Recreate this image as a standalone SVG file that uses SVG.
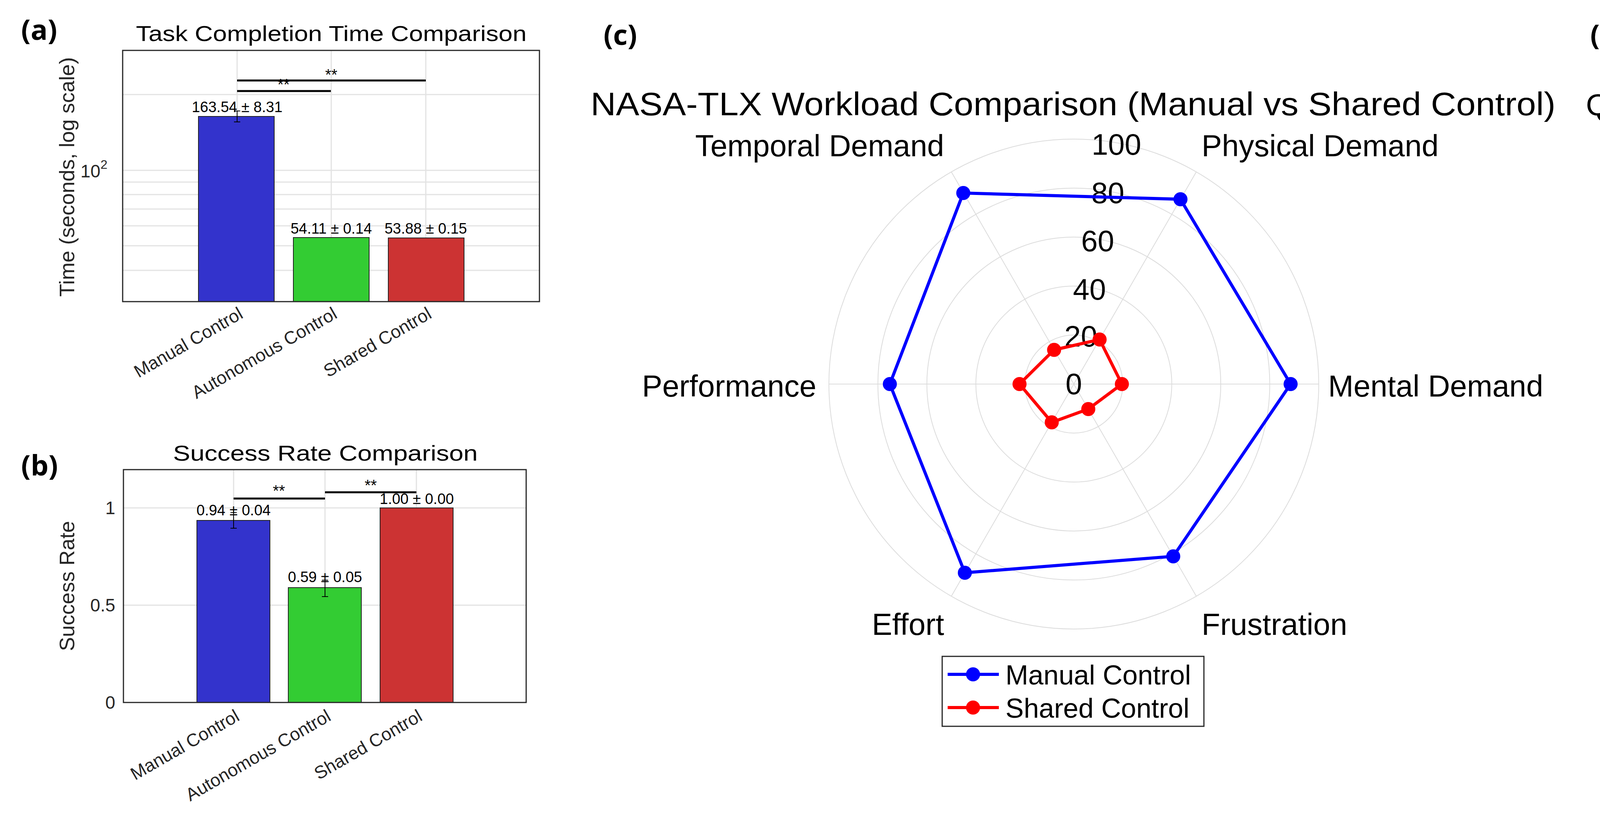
<svg xmlns="http://www.w3.org/2000/svg" width="6638" height="2150" viewBox="0 0 6638 2150">
<style>
text{font-family:"Liberation Sans",Arial,sans-serif;fill:#000}
.pl{font-family:"Open Sans","Noto Sans",sans-serif;font-weight:bold;font-size:72px}
.grid{stroke:#e3e3e3;stroke-width:3;fill:none}
.ax{stroke:#262626;stroke-width:3;fill:none}
.tk{font-size:46px;fill:#262626}
.lab{font-size:54px;fill:#262626}
.val{font-size:38px}
.sig{stroke:#000;stroke-width:5;fill:none}
.mv{fill:#e6b3b3;stroke:#999;stroke-width:3}
.sv{fill:#b3b3e6;stroke:#999;stroke-width:3}
.pg{stroke:#dcdcdc;stroke-width:2;fill:none}
.ml{font-size:56px}
</style>

<g id="panel-a">
<text class="pl" x="54" y="102">(a)</text>
<text x="848" y="105" font-size="56" text-anchor="middle" textLength="1000" lengthAdjust="spacingAndGlyphs">Task Completion Time Comparison</text>
<g class="grid">
<line x1="314" y1="242" x2="1381" y2="242"/><line x1="314" y1="436" x2="1381" y2="436"/>
<line x1="314" y1="466" x2="1381" y2="466"/><line x1="314" y1="498" x2="1381" y2="498"/>
<line x1="314" y1="535" x2="1381" y2="535"/><line x1="314" y1="578" x2="1381" y2="578"/>
<line x1="314" y1="629" x2="1381" y2="629"/><line x1="314" y1="692" x2="1381" y2="692"/>
<line x1="607" y1="129" x2="607" y2="772"/><line x1="848" y1="129" x2="848" y2="772"/><line x1="1090" y1="129" x2="1090" y2="772"/>
</g>
<rect x="508" y="298" width="194" height="474" fill="#3333cc" stroke="#222" stroke-width="2"/>
<rect x="751" y="608" width="194" height="164" fill="#33cc33" stroke="#222" stroke-width="2"/>
<rect x="994" y="609" width="194" height="163" fill="#cc3333" stroke="#222" stroke-width="2"/>
<path d="M607 284V312M599 284H615M599 312H615" stroke="#000" stroke-width="2"/>
<rect x="314" y="129" width="1067" height="643" class="ax"/>
<text x="275" y="454" text-anchor="end" class="tk">10<tspan font-size="32" dy="-22">2</tspan></text>
<text class="lab" transform="translate(190 453) rotate(-90)" text-anchor="middle">Time (seconds, log scale)</text>
<line x1="607" y1="206" x2="1090" y2="206" class="sig" stroke-width="3"/>
<line x1="607" y1="233" x2="847" y2="233" class="sig" stroke-width="3"/>
<text x="848" y="205" text-anchor="middle" font-size="40">**</text>
<text x="726" y="230" text-anchor="middle" font-size="40">**</text>
<text x="607" y="287" text-anchor="middle" class="val">163.54 ± 8.31</text>
<text x="848" y="598" text-anchor="middle" class="val">54.11 ± 0.14</text>
<text x="1090" y="598" text-anchor="middle" class="val">53.88 ± 0.15</text>
<text class="tk" transform="translate(625 812) rotate(-30)" text-anchor="end">Manual Control</text>
<text class="tk" transform="translate(866 812) rotate(-30)" text-anchor="end">Autonomous Control</text>
<text class="tk" transform="translate(1108 812) rotate(-30)" text-anchor="end">Shared Control</text>
</g>

<g id="panel-b">
<text class="pl" x="54" y="1217">(b)</text>
<text x="833" y="1179" font-size="56" text-anchor="middle" textLength="780" lengthAdjust="spacingAndGlyphs">Success Rate Comparison</text>
<g class="grid">
<line x1="316" y1="1300" x2="1347" y2="1300"/><line x1="316" y1="1549" x2="1347" y2="1549"/>
<line x1="598" y1="1202" x2="598" y2="1798"/><line x1="832" y1="1202" x2="832" y2="1798"/><line x1="1066" y1="1202" x2="1066" y2="1798"/>
</g>
<rect x="504" y="1332" width="187" height="466" fill="#3333cc" stroke="#222" stroke-width="2"/>
<rect x="738" y="1504" width="187" height="294" fill="#33cc33" stroke="#222" stroke-width="2"/>
<rect x="973" y="1300" width="187" height="498" fill="#cc3333" stroke="#222" stroke-width="2"/>
<path d="M598 1312V1352M590 1312H606M590 1352H606M832 1485V1527M824 1485H840M824 1527H840" stroke="#000" stroke-width="2"/>
<rect x="316" y="1202" width="1031" height="596" class="ax"/>
<text x="295" y="1316" text-anchor="end" class="tk">1</text>
<text x="295" y="1565" text-anchor="end" class="tk">0.5</text>
<text x="295" y="1814" text-anchor="end" class="tk">0</text>
<text class="lab" transform="translate(190 1500) rotate(-90)" text-anchor="middle">Success Rate</text>
<line x1="598" y1="1276" x2="832" y2="1276" class="sig" stroke-width="3"/>
<line x1="832" y1="1260" x2="1066" y2="1260" class="sig" stroke-width="3"/>
<text x="714" y="1270" text-anchor="middle" font-size="40">**</text>
<text x="949" y="1256" text-anchor="middle" font-size="40">**</text>
<text x="598" y="1319" text-anchor="middle" class="val">0.94 ± 0.04</text>
<text x="832" y="1490" text-anchor="middle" class="val">0.59 ± 0.05</text>
<text x="1067" y="1290" text-anchor="middle" class="val">1.00 ± 0.00</text>
<text class="tk" transform="translate(616 1842) rotate(-30)" text-anchor="end">Manual Control</text>
<text class="tk" transform="translate(850 1842) rotate(-30)" text-anchor="end">Autonomous Control</text>
<text class="tk" transform="translate(1084 1842) rotate(-30)" text-anchor="end">Shared Control</text>
</g>

<g id="panel-c">
<text class="pl" x="1545" y="115">(c)</text>
<text x="2747" y="295" font-size="84" text-anchor="middle" textLength="2470" lengthAdjust="spacingAndGlyphs">NASA-TLX Workload Comparison (Manual vs Shared Control)</text>
<g class="pg">
<circle cx="2749" cy="983" r="125.4"/><circle cx="2749" cy="983" r="250.8"/><circle cx="2749" cy="983" r="376.2"/>
<circle cx="2749" cy="983" r="501.6"/><circle cx="2749" cy="983" r="627"/>
<line x1="2749" y1="983" x2="3376" y2="983"/><line x1="2749" y1="983" x2="3062.5" y2="440"/>
<line x1="2749" y1="983" x2="2435.5" y2="440"/><line x1="2749" y1="983" x2="2122" y2="983"/>
<line x1="2749" y1="983" x2="2435.5" y2="1526"/><line x1="2749" y1="983" x2="3062.5" y2="1526"/>
</g>
<g font-size="76" fill="#262626" text-anchor="middle">
<text x="2858" y="396">100</text><text x="2836" y="520">80</text><text x="2810" y="643">60</text>
<text x="2789" y="767">40</text><text x="2767" y="887">20</text><text x="2749" y="1009">0</text>
</g>
<g font-size="78" fill="#262626">
<text x="2417" y="400" text-anchor="end">Temporal Demand</text>
<text x="3076" y="400">Physical Demand</text>
<text x="2090" y="1015" text-anchor="end">Performance</text>
<text x="3400" y="1015">Mental Demand</text>
<text x="2417" y="1625" text-anchor="end">Effort</text>
<text x="3076" y="1625">Frustration</text>
</g>
<polygon points="3304,983 3022,510 2466,494 2278,983 2470,1466 3003.5,1424" fill="none" stroke="#0000ff" stroke-width="8"/>
<g fill="#0000ff">
<circle cx="3304" cy="983" r="18"/><circle cx="3022" cy="510" r="18"/><circle cx="2466" cy="494" r="18"/>
<circle cx="2278" cy="983" r="18"/><circle cx="2470" cy="1466" r="18"/><circle cx="3003.5" cy="1424" r="18"/>
</g>
<polygon points="2872,983 2815,869 2698.5,895.5 2610,983 2692.5,1081 2786,1047" fill="none" stroke="#ff0000" stroke-width="8"/>
<g fill="#ff0000">
<circle cx="2872" cy="983" r="18"/><circle cx="2815" cy="869" r="18"/><circle cx="2698.5" cy="895.5" r="18"/>
<circle cx="2610" cy="983" r="18"/><circle cx="2692.5" cy="1081" r="18"/><circle cx="2786" cy="1047" r="18"/>
</g>
<g id="legend-c">
<rect x="2412" y="1680" width="670" height="179" fill="#fff" stroke="#262626" stroke-width="3"/>
<line x1="2426" y1="1726" x2="2557" y2="1726" stroke="#0000ff" stroke-width="8"/><circle cx="2491" cy="1726" r="18" fill="#0000ff"/>
<line x1="2426" y1="1811" x2="2557" y2="1811" stroke="#ff0000" stroke-width="8"/><circle cx="2491" cy="1811" r="18" fill="#ff0000"/>
<text x="2574" y="1752" font-size="70">Manual Control</text>
<text x="2574" y="1837" font-size="70">Shared Control</text>
</g>
</g>

<g id="panel-d">
<text class="pl" x="4071" y="115">(d)</text>
<text x="5315" y="295" font-size="78" text-anchor="middle" textLength="2510" lengthAdjust="spacingAndGlyphs">Questionnaire Results Comparison (Manual Control vs. Shared Control)</text>
<g class="grid">
<line x1="4253" y1="436" x2="6377" y2="436"/><line x1="4253" y1="674" x2="6377" y2="674"/>
<line x1="4253" y1="911" x2="6377" y2="911"/><line x1="4253" y1="1148" x2="6377" y2="1148"/>
<line x1="4253" y1="1385" x2="6377" y2="1385"/>
<line x1="4517" y1="318" x2="4517" y2="1502"/><line x1="4783" y1="318" x2="4783" y2="1502"/>
<line x1="5049" y1="318" x2="5049" y2="1502"/><line x1="5315" y1="318" x2="5315" y2="1502"/>
<line x1="5581" y1="318" x2="5581" y2="1502"/><line x1="5847" y1="318" x2="5847" y2="1502"/>
<line x1="6113" y1="318" x2="6113" y2="1502"/>
</g>
<line x1="5980" y1="318" x2="5980" y2="1376" stroke="#777" stroke-width="3" stroke-dasharray="22 14"/>
<g id="violins">
<path class="mv" d="M4504 850C4504 966 4464 1050 4464 1130C4464 1250 4504 1300 4504 1444Z"/>
<path class="sv" d="M4530 412C4530 520 4567 590 4567 674C4567 780 4530 850 4530 971Z"/>
<path class="mv" d="M4770 497C4770 700 4728 900 4728 1030C4728 1110 4770 1150 4770 1210Z"/>
<path class="sv" d="M4796 412C4796 470 4836 510 4836 556C4836 650 4796 720 4796 853Z"/>
<path class="mv" d="M5036 850C5036 966 4996 1050 4996 1130C4996 1250 5036 1300 5036 1444Z"/>
<path class="sv" d="M5062 412C5062 500 5101 560 5101 615C5101 700 5062 760 5062 853Z"/>
<path class="mv" d="M5302 615C5302 720 5262 800 5262 970C5262 1080 5302 1130 5302 1210Z"/>
<path class="sv" d="M5328 412C5328 500 5367 560 5367 615C5367 700 5328 760 5328 853Z"/>
<path class="mv" d="M5568 853C5568 930 5526 990 5526 1030C5526 1090 5568 1140 5568 1210Z"/>
<path class="sv" d="M5594 412C5594 560 5633 640 5633 710C5633 820 5594 880 5594 971Z"/>
<path class="mv" d="M5834 853C5834 950 5795 1010 5795 1059C5795 1150 5834 1230 5834 1328Z"/>
<path class="sv" d="M5860 412C5860 530 5900 600 5900 660C5900 780 5860 860 5860 971Z"/>
<path class="mv" d="M6100 853C6100 950 6061 1010 6061 1059C6061 1150 6100 1230 6100 1328Z"/>
<path class="sv" d="M6126 412C6126 500 6165 560 6165 615C6165 700 6126 760 6126 853Z"/>
</g>
<g stroke="#ff0000" stroke-width="6">
<line x1="4467" y1="1162" x2="4504" y2="1162"/><line x1="4733" y1="911" x2="4770" y2="911"/>
<line x1="4999" y1="1162" x2="5036" y2="1162"/><line x1="5265" y1="925" x2="5302" y2="925"/>
<line x1="5531" y1="1030" x2="5568" y2="1030"/><line x1="5797" y1="1059" x2="5834" y2="1059"/>
<line x1="6063" y1="1059" x2="6100" y2="1059"/>
</g>
<g stroke="#000" stroke-width="6">
<line x1="4530" y1="644" x2="4567" y2="644"/><line x1="4796" y1="585" x2="4833" y2="585"/>
<line x1="5062" y1="615" x2="5099" y2="615"/><line x1="5328" y1="615" x2="5365" y2="615"/>
<line x1="5594" y1="704" x2="5631" y2="704"/><line x1="5860" y1="660" x2="5897" y2="660"/>
<line x1="6126" y1="615" x2="6163" y2="615"/>
</g>
<g class="ml" text-anchor="end">
<text x="4446" y="1182">1.88</text><text x="4712" y="931">4.00</text><text x="4978" y="1182">1.88</text>
<text x="5242" y="945">3.88</text><text x="5510" y="1050">3.00</text><text x="5774" y="1079">2.75</text>
<text x="6037" y="1079">2.75</text>
</g>
<g class="ml">
<text x="4584" y="664">6.25</text><text x="4850" y="605">6.75</text><text x="5114" y="635">6.50</text>
<text x="5380" y="635">6.50</text><text x="5646" y="724">5.75</text><text x="5860" y="735">6.12</text>
<text x="6177" y="635">6.50</text>
</g>
<g class="sig">
<path d="M4483 412H4551M4483 400V424M4551 400V424"/>
<path d="M4749 412H4817M4749 400V424M4817 400V424"/>
<path d="M5015 412H5083M5015 400V424M5083 400V424"/>
<path d="M5281 412H5349M5281 400V424M5349 400V424"/>
<path d="M5547 412H5615M5547 400V424M5615 400V424"/>
<path d="M5813 412H5881M5813 400V424M5881 400V424"/>
<path d="M6079 412H6147M6079 400V424M6147 400V424"/>
</g>
<g font-size="52" text-anchor="middle">
<text x="4517" y="404">***</text><text x="4783" y="404">***</text><text x="5049" y="404">***</text>
<text x="5315" y="404">***</text><text x="5581" y="404">***</text><text x="5847" y="404">***</text>
<text x="6113" y="404">***</text>
</g>
<path class="ax" d="M4253 318V1502H6377M4517 1502V1488M4783 1502V1488M5049 1502V1488M5315 1502V1488M5581 1502V1488M5847 1502V1488M6113 1502V1488M4253 436H4267M4253 674H4267M4253 911H4267M4253 1148H4267M4253 1385H4267"/>
<g font-size="66" fill="#262626" text-anchor="end">
<text x="4227" y="459">8</text><text x="4227" y="697">6</text><text x="4227" y="934">4</text>
<text x="4227" y="1171">2</text><text x="4227" y="1408">0</text>
</g>
<text font-size="70" fill="#262626" transform="translate(4160 908) rotate(-90)" text-anchor="middle">Rating</text>
<g font-size="66" fill="#262626" text-anchor="end">
<text transform="translate(4544 1557) rotate(-30)">Q1 Usability</text>
<text transform="translate(4810 1557) rotate(-30)">Q2 Supportive</text>
<text transform="translate(5076 1557) rotate(-30)">Q3 Efficiency</text>
<text transform="translate(5342 1557) rotate(-30)">Q4 Clarity</text>
<text transform="translate(5608 1557) rotate(-30)">Q5 Innovation</text>
<text transform="translate(5874 1557) rotate(-30)">Q6 Advancement</text>
<text transform="translate(6140 1557) rotate(-30)">Q7 Overall User Experience</text>
</g>
<g id="legend-d">
<rect x="5848" y="1376" width="532" height="144" fill="#fff" stroke="#262626" stroke-width="3"/>
<rect x="5860" y="1388" width="106" height="47" class="mv"/>
<rect x="5860" y="1457" width="106" height="49" class="sv"/>
<text x="5978" y="1433" font-size="62">Manual Control</text>
<text x="5978" y="1502" font-size="62">Shared Control</text>
</g>
</g>
</svg>
